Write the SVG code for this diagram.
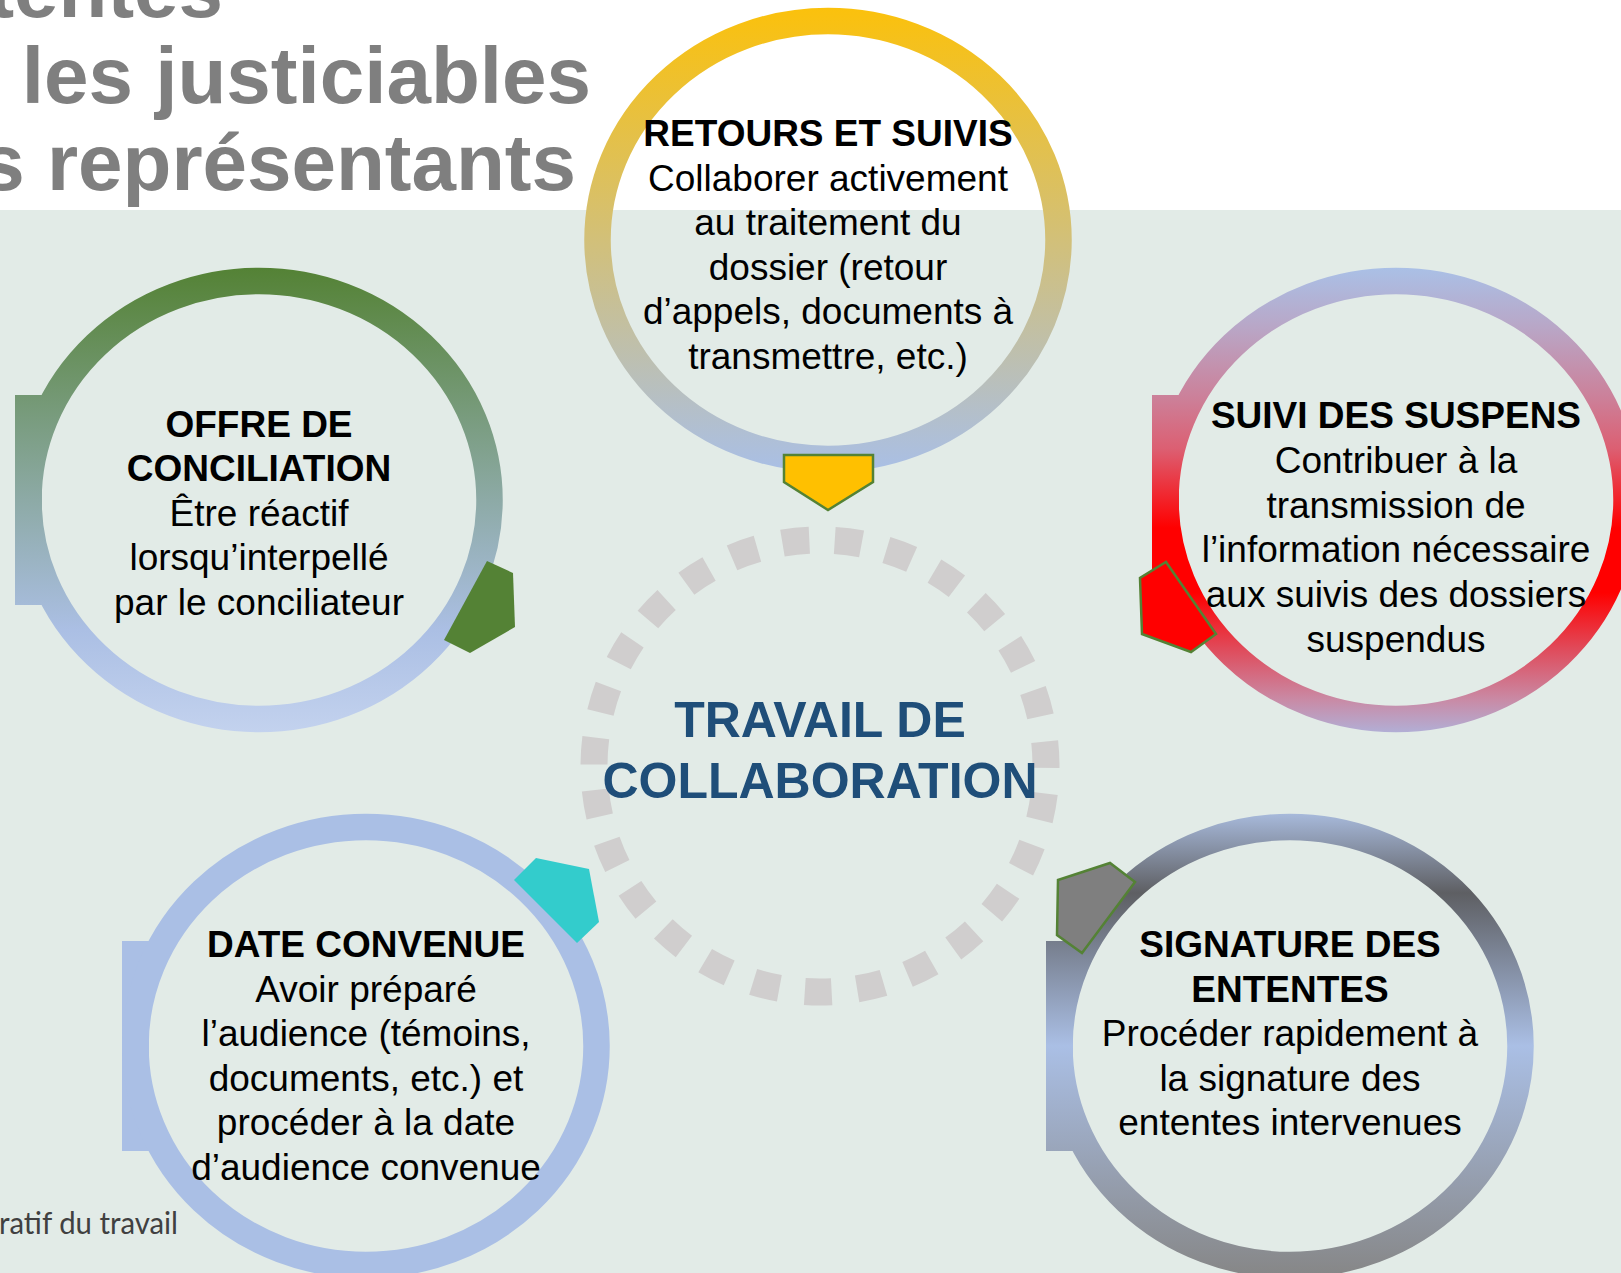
<svg xmlns="http://www.w3.org/2000/svg" width="1621" height="1273" viewBox="0 0 1621 1273">
<style>
.title{font-family:"Liberation Sans",Arial,sans-serif;font-weight:bold;font-size:80px;fill:#7F7F7F;text-anchor:end}
.t{font-family:"Liberation Sans",Arial,sans-serif;font-size:37px;fill:#000;text-anchor:middle}
.b{font-weight:bold}
.center{font-family:"Liberation Sans",Arial,sans-serif;font-weight:bold;font-size:50px;fill:#1F4E79;text-anchor:middle}
.foot{font-family:Lato,"Open Sans",sans-serif;font-size:31px;fill:#404040}
.ring{fill:none;stroke-width:26.5}
.edge{stroke:#548235;stroke-width:2.5;stroke-linejoin:miter}
</style>
<defs>
<linearGradient id="gY" gradientUnits="userSpaceOnUse" x1="0" y1="8" x2="0" y2="472">
<stop offset="0" stop-color="#FBC10C"/><stop offset="1" stop-color="#A9BFE6"/>
</linearGradient>
<linearGradient id="gG" gradientUnits="userSpaceOnUse" x1="0" y1="268" x2="0" y2="732">
<stop offset="0" stop-color="#548235"/><stop offset="0.5" stop-color="#8DAAA6"/><stop offset="0.78" stop-color="#ABBFE4"/><stop offset="1" stop-color="#C3D2EE"/>
</linearGradient>
<linearGradient id="gR" gradientUnits="userSpaceOnUse" x1="0" y1="268" x2="0" y2="732">
<stop offset="0" stop-color="#AAC0E6"/><stop offset="0.13" stop-color="#B9A6C6"/><stop offset="0.28" stop-color="#CC8099"/><stop offset="0.39" stop-color="#DC5F72"/><stop offset="0.56" stop-color="#FF0000"/><stop offset="0.7" stop-color="#FF0000"/><stop offset="0.82" stop-color="#E04A5A"/><stop offset="0.93" stop-color="#C98AA5"/><stop offset="1" stop-color="#B2AED5"/>
</linearGradient>
<linearGradient id="gS" gradientUnits="userSpaceOnUse" x1="0" y1="814" x2="0" y2="1278">
<stop offset="0" stop-color="#A7B9DA"/><stop offset="0.17" stop-color="#5E5F63"/><stop offset="0.5" stop-color="#AABFE5"/><stop offset="1" stop-color="#868686"/>
</linearGradient>
</defs>

<g id="background">
<rect x="0" y="0" width="1621" height="1273" fill="#FFFFFF"/>
<rect x="0" y="210" width="1621" height="1063" fill="#E2EBE7"/>
</g>

<g id="title">
<text class="title" x="223" y="17">tentes</text>
<text class="title" x="591" y="103">les justiciables</text>
<text class="title" x="576" y="190">s représentants</text>
</g>

<text class="foot" x="-1" y="1234" textLength="179" lengthAdjust="spacingAndGlyphs">ratif du travail</text>

<g id="node-retours">
<ellipse class="ring" cx="828" cy="240" rx="230.5" ry="219" stroke="url(#gY)"/>
</g>

<g id="node-offre">
<rect x="15" y="395" width="27" height="210" fill="url(#gG)"/>
<ellipse class="ring" cx="259" cy="500" rx="230.5" ry="219" stroke="url(#gG)"/>
</g>

<g id="node-suivi">
<rect x="1152" y="395" width="27" height="210" fill="url(#gR)"/>
<ellipse class="ring" cx="1396" cy="500" rx="230.5" ry="219" stroke="url(#gR)"/>
</g>

<g id="node-date">
<rect x="122" y="941" width="27" height="210" fill="#AABFE5"/>
<ellipse class="ring" cx="366" cy="1046" rx="230.5" ry="219" stroke="#AABFE5"/>
</g>

<g id="node-signature">
<rect x="1046" y="941" width="27" height="210" fill="url(#gS)"/>
<ellipse class="ring" cx="1290" cy="1046" rx="230.5" ry="219" stroke="url(#gS)"/>
</g>

<g id="node-center">
<circle cx="820" cy="766" r="226" fill="none" stroke="#D0CECE" stroke-width="27" stroke-dasharray="27 25.59" stroke-dashoffset="25"/>
</g>

<g id="connectors">
<polygon class="edge" points="784,455 873,455 873,482 828,510 784,482" fill="#FFC000"/>
<polygon points="487,561 513,573 515,627 470,653 444,640" fill="#548235"/>
<polygon class="edge" points="1166,562 1216,634 1191,652 1142,634 1140,578" fill="#FF0000"/>
<polygon points="514,880 536,858 589,869 599,922 577,943" fill="#33CCCC"/>
<polygon class="edge" points="1058,880 1110,863 1135,882 1082,953 1057,935" fill="#7F7F7F"/>
</g>

<g id="labels">
<text class="t" x="828"><tspan class="b" x="828" y="146">RETOURS ET SUIVIS</tspan><tspan x="828" y="190.5">Collaborer activement</tspan><tspan x="828" y="235">au traitement du</tspan><tspan x="828" y="279.5">dossier (retour</tspan><tspan x="828" y="324">d’appels, documents à</tspan><tspan x="828" y="368.5">transmettre, etc.)</tspan></text>
<text class="t" x="259"><tspan class="b" x="259" y="436.5">OFFRE DE</tspan><tspan class="b" x="259" y="481">CONCILIATION</tspan><tspan x="259" y="525.5">Être réactif</tspan><tspan x="259" y="570">lorsqu’interpellé</tspan><tspan x="259" y="614.5">par le conciliateur</tspan></text>
<text class="t" x="1396"><tspan class="b" x="1396" y="428">SUIVI DES SUSPENS</tspan><tspan x="1396" y="472.8">Contribuer à la</tspan><tspan x="1396" y="517.6">transmission de</tspan><tspan x="1396" y="562.4">l’information nécessaire</tspan><tspan x="1396" y="607.2">aux suivis des dossiers</tspan><tspan x="1396" y="652">suspendus</tspan></text>
<text class="t" x="366"><tspan class="b" x="366" y="957">DATE CONVENUE</tspan><tspan x="366" y="1001.6">Avoir préparé</tspan><tspan x="366" y="1046.2">l’audience (témoins,</tspan><tspan x="366" y="1090.8">documents, etc.) et</tspan><tspan x="366" y="1135.4">procéder à la date</tspan><tspan x="366" y="1180">d’audience convenue</tspan></text>
<text class="t" x="1290"><tspan class="b" x="1290" y="957">SIGNATURE DES</tspan><tspan class="b" x="1290" y="1001.6">ENTENTES</tspan><tspan x="1290" y="1046.2">Procéder rapidement à</tspan><tspan x="1290" y="1090.8">la signature des</tspan><tspan x="1290" y="1135.4">ententes intervenues</tspan></text>
<text class="center" x="820"><tspan x="820" y="737">TRAVAIL DE</tspan><tspan x="820" y="798">COLLABORATION</tspan></text>
</g>
</svg>
